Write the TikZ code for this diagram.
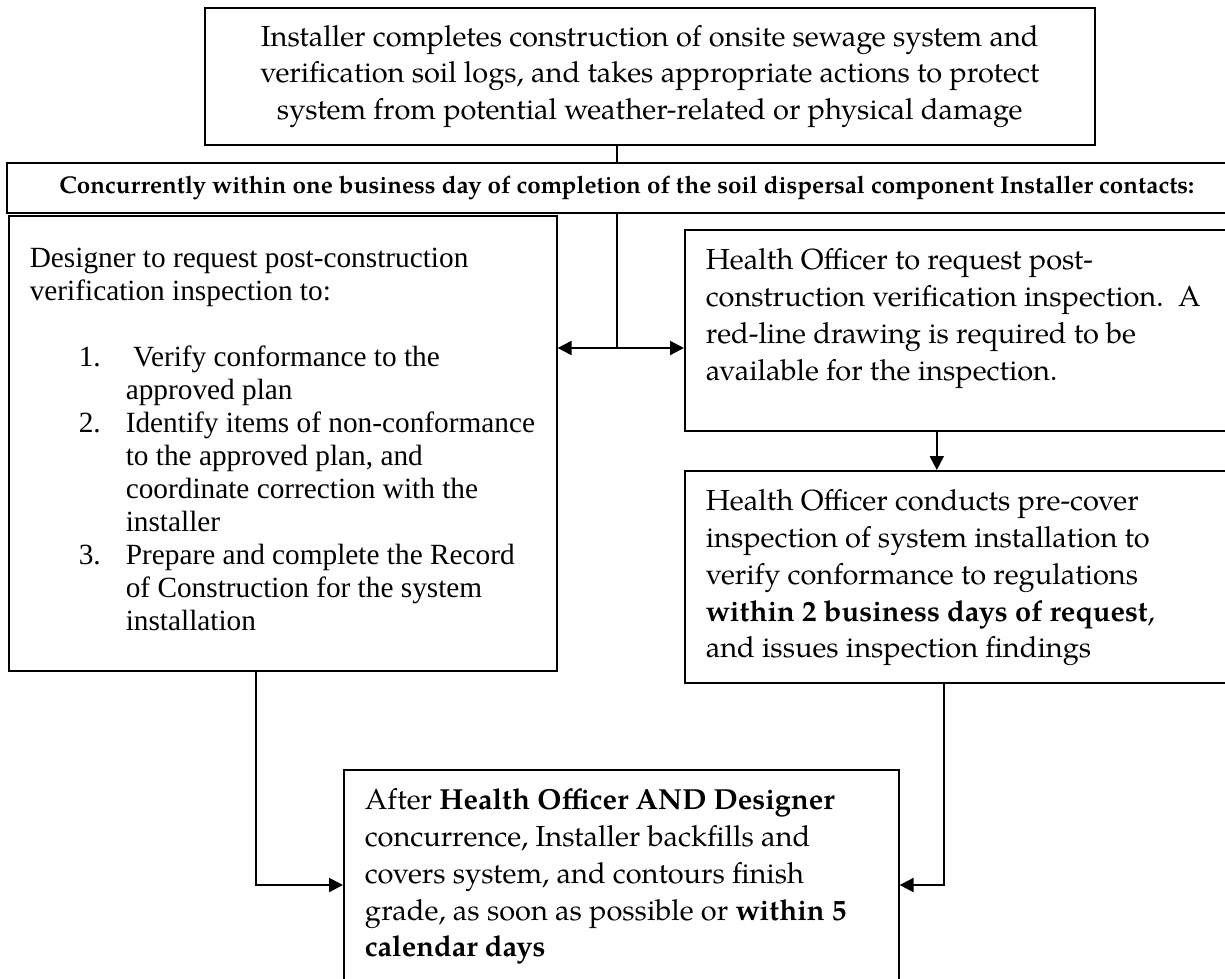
\documentclass[tikz,border=0pt]{standalone}
\usepackage{fontspec}
\newfontfamily\timesfont{Liberation Serif}
\newfontfamily\palfont{TeX Gyre Pagella}
\usetikzlibrary{arrows.meta}

\tikzset{
  box/.style={draw, line width=1.6pt, anchor=north west, inner ysep=0pt},
  pal/.style={font=\palfont\fontsize{29}{36.7}\selectfont},
  link/.style={line width=2pt},
  arr/.style={line width=2pt, -{Triangle[length=14pt, width=14pt]}}
}

\begin{document}
\begin{tikzpicture}[x=1pt, y=-1pt]
  \useasboundingbox (0,0) rectangle (1225,978);

  % installer finishes the system
  \node[box, pal, align=center, minimum width=890pt, minimum height=137pt] (install) at (204,7)
    {Installer completes construction of onsite sewage system and\\
     verification soil logs, and takes appropriate actions to protect\\
     system from potential weather-related or physical damage};

  \node[box, minimum width=1240pt, minimum height=50pt,
        font=\palfont\bfseries\fontsize{24.2}{28}\selectfont] (contacts) at (6,162)
    {Concurrently within one business day of completion of the soil dispersal component Installer contacts:};

  % designer side
  \node[box, inner xsep=21pt, inner ysep=32pt, font=\timesfont\fontsize{29.3}{33}\selectfont] (designer) at (8,215)
    {\parbox[t][391pt][t]{506pt}{\raggedright
      Designer to request post-construction\\
      verification inspection to:\\
      \mbox{}\\
      \hspace*{49pt}\makebox[47pt][l]{1.} Verify conformance to the\\
      \hspace*{96pt}approved plan\\
      \hspace*{49pt}\makebox[47pt][l]{2.}Identify items of non-conformance\\
      \hspace*{96pt}to the approved plan, and\\
      \hspace*{96pt}coordinate correction with the\\
      \hspace*{96pt}installer\\
      \hspace*{49pt}\makebox[47pt][l]{3.}Prepare and complete the Record\\
      \hspace*{96pt}of Construction for the system\\
      \hspace*{96pt}installation}};

  % health officer side
  \node[box, pal, inner xsep=21pt, inner ysep=19pt] (health) at (684,229)
    {\parbox[t][163pt][t]{518pt}{\raggedright
      Health Officer to request post-\\
      construction verification inspection.\ \ A\\
      red-line drawing is required to be\\
      available for the inspection.}};

  \node[box, pal, inner xsep=21pt, inner ysep=19pt] (inspect) at (684,470)
    {\parbox[t][174pt][t]{518pt}{\raggedright
      Health Officer conducts pre-cover\\
      inspection of system installation to\\
      verify conformance to regulations\\
      \textbf{within 2 business days of request},\\
      and issues inspection findings}};

  % backfill
  \node[box, pal, inner xsep=21pt, inner ysep=19pt] (cover) at (343,769)
    {\parbox[t][192pt][t]{513pt}{\raggedright
      After \textbf{Health Officer AND Designer}\\
      concurrence, Installer backfills and\\
      covers system, and contours finish\\
      grade, as soon as possible or \textbf{within 5}\\
      \textbf{calendar days}}};

  \coordinate (split) at (617,348);
  \coordinate (lj) at (256,885);
  \coordinate (rj) at (944,885);

  \draw[link] (split |- install.south) -- (split |- contacts.north);
  \draw[link] (split |- contacts.south) -- (split);
  \draw[arr] (split) -- (split -| designer.east);
  \draw[arr] (split) -- (split -| health.west);
  \draw[arr] ([xshift=-28pt]health.south) -- ([xshift=-28pt]health.south |- inspect.north);
  \draw[arr] (designer.south -| lj) -- (lj) -- (lj -| cover.west);
  \draw[arr] (inspect.south -| rj) -- (rj) -- (rj -| cover.east);
\end{tikzpicture}
\end{document}
